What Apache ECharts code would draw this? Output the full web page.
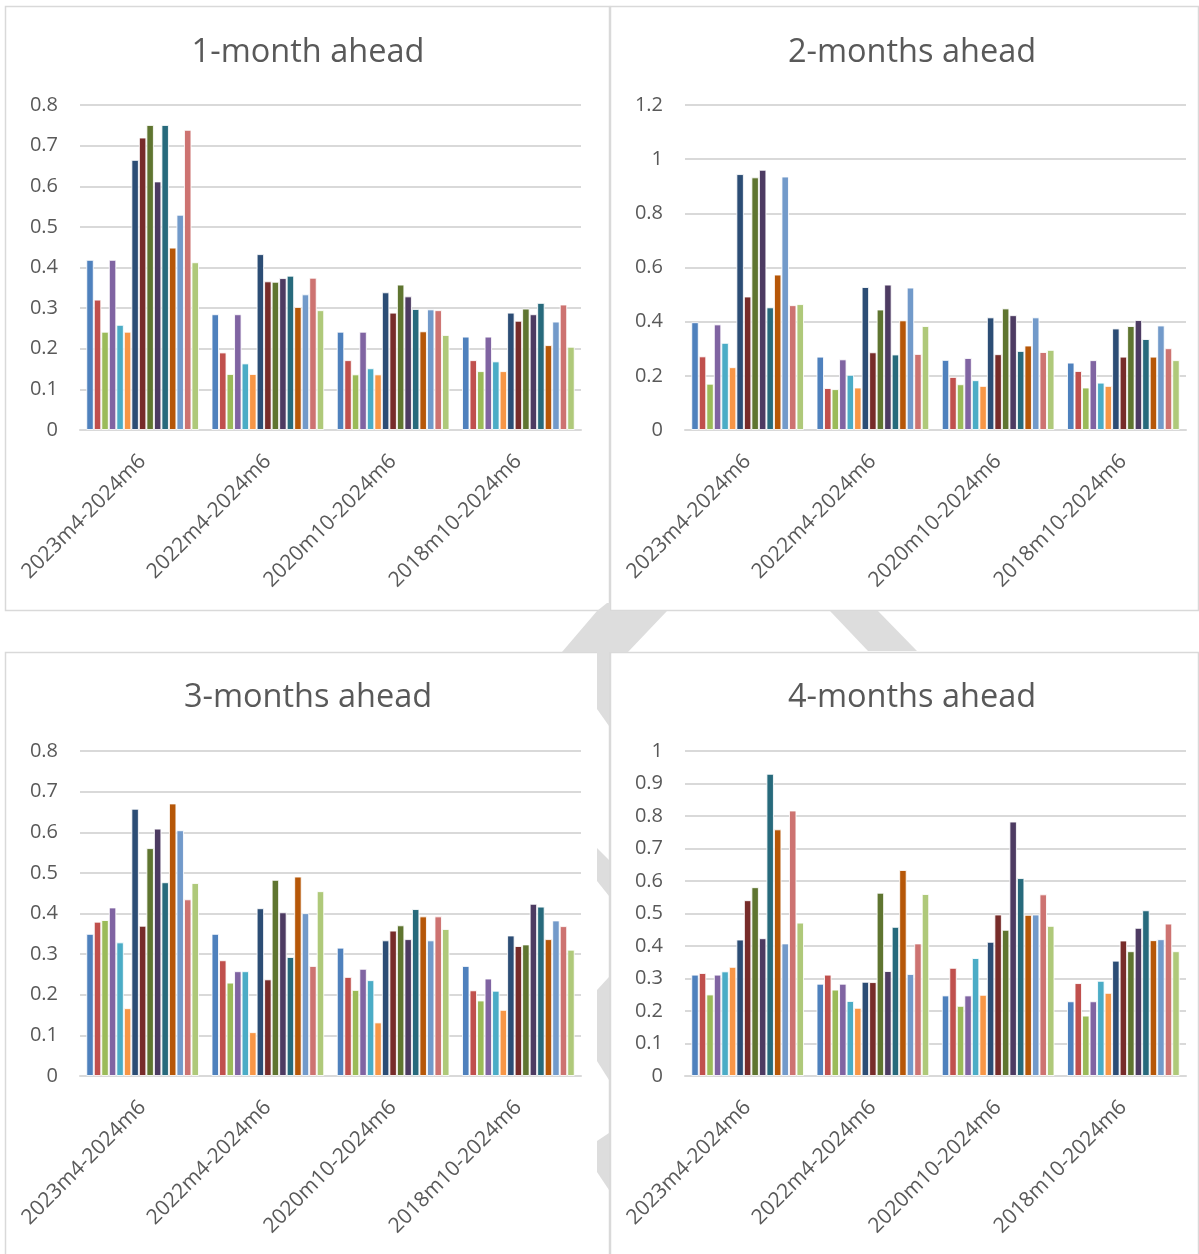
<!DOCTYPE html>
<html>
<head>
<meta charset="utf-8">
<script src="https://cdn.jsdelivr.net/npm/echarts@6/dist/echarts.min.js"></script>
<style>
  html, body { margin: 0; padding: 0; background: #ffffff; }
  #chart { width: 1199px; height: 1254px; }
</style>
</head>
<body>
<div id="chart"></div>
<script>
// Sample windows shown on each x axis
const categories = ['2023m4-2024m6', '2022m4-2024m6', '2020m10-2024m6', '2018m10-2024m6'];

// One row per series, one value per sample window
const oneMonth = [
  [0.419, 0.285, 0.242, 0.230],
  [0.321, 0.191, 0.172, 0.172],
  [0.242, 0.138, 0.137, 0.145],
  [0.419, 0.285, 0.242, 0.230],
  [0.259, 0.164, 0.152, 0.169],
  [0.242, 0.138, 0.137, 0.145],
  [0.665, 0.433, 0.339, 0.289],
  [0.720, 0.366, 0.289, 0.269],
  [0.751, 0.365, 0.358, 0.299],
  [0.612, 0.374, 0.329, 0.285],
  [0.751, 0.380, 0.298, 0.313],
  [0.449, 0.303, 0.243, 0.209],
  [0.530, 0.334, 0.297, 0.267],
  [0.739, 0.375, 0.295, 0.309],
  [0.413, 0.295, 0.234, 0.205]
];

const twoMonths = [
  [0.398, 0.271, 0.259, 0.249],
  [0.272, 0.155, 0.196, 0.218],
  [0.171, 0.151, 0.169, 0.157],
  [0.390, 0.261, 0.266, 0.258],
  [0.322, 0.204, 0.184, 0.175],
  [0.232, 0.157, 0.163, 0.163],
  [0.945, 0.528, 0.416, 0.375],
  [0.493, 0.287, 0.280, 0.271],
  [0.933, 0.445, 0.449, 0.384],
  [0.961, 0.537, 0.424, 0.406],
  [0.453, 0.279, 0.292, 0.336],
  [0.574, 0.405, 0.312, 0.271],
  [0.936, 0.526, 0.416, 0.386],
  [0.461, 0.281, 0.288, 0.302],
  [0.465, 0.384, 0.296, 0.258]
];

const threeMonths = [
  [0.350, 0.350, 0.316, 0.271],
  [0.380, 0.285, 0.244, 0.211],
  [0.384, 0.230, 0.212, 0.186],
  [0.415, 0.258, 0.264, 0.240],
  [0.329, 0.258, 0.236, 0.210],
  [0.167, 0.108, 0.132, 0.163],
  [0.658, 0.413, 0.334, 0.346],
  [0.370, 0.238, 0.358, 0.320],
  [0.561, 0.483, 0.371, 0.324],
  [0.609, 0.403, 0.337, 0.424],
  [0.477, 0.293, 0.411, 0.417],
  [0.671, 0.491, 0.393, 0.337],
  [0.605, 0.401, 0.334, 0.383],
  [0.435, 0.271, 0.393, 0.369],
  [0.475, 0.455, 0.362, 0.311]
];

const fourMonths = [
  [0.312, 0.284, 0.248, 0.230],
  [0.317, 0.312, 0.333, 0.286],
  [0.251, 0.266, 0.216, 0.186],
  [0.312, 0.284, 0.248, 0.230],
  [0.322, 0.231, 0.363, 0.293],
  [0.336, 0.210, 0.250, 0.256],
  [0.420, 0.290, 0.413, 0.355],
  [0.541, 0.289, 0.497, 0.417],
  [0.581, 0.564, 0.450, 0.384],
  [0.424, 0.323, 0.783, 0.456],
  [0.930, 0.459, 0.609, 0.510],
  [0.759, 0.634, 0.496, 0.418],
  [0.408, 0.314, 0.497, 0.421],
  [0.817, 0.408, 0.559, 0.469],
  [0.472, 0.560, 0.462, 0.384]
];

const panelTitles = ['1-month ahead', '2-months ahead', '3-months ahead', '4-months ahead'];
const yMax = [0.8, 1.2, 0.8, 1];
const yStep = [0.1, 0.2, 0.1, 0.1];

const palette = [
  '#4F81BD', '#C0504D', '#9BBB59', '#8064A2', '#4BACC6', '#F79646',
  '#2C4D75', '#772C2A', '#5F7530', '#4D3B62', '#276A7C', '#B65708',
  '#729ACA', '#CD7371', '#AFC97A'
];

const FONT = '"Open Sans", "Noto Sans", sans-serif';
const TEXT = '#595959';
const GRIDLINE = '#D9D9D9';

// Panel frames: [x, y, w, h] and plot areas
const frames = [
  [5, 6, 604, 604],
  [610, 6, 588, 604],
  [5, 652, 604, 610],
  [610, 652, 588, 610]
];
const plots = [
  { left: 80, top: 105 },
  { left: 685, top: 105 },
  { left: 80, top: 751 },
  { left: 685, top: 751 }
];
const titleCenters = [[308, 53], [912, 53], [308, 698], [912, 698]];

const panels = [oneMonth, twoMonths, threeMonths, fourMonths];

const grid = plots.map(p => ({ left: p.left, top: p.top, width: 501, height: 325 }));

const xAxis = plots.map((p, i) => ({
  type: 'category',
  gridIndex: i,
  data: categories,
  axisTick: { show: false },
  axisLine: { lineStyle: { color: GRIDLINE, width: 2 } },
  axisLabel: {
    interval: 0, rotate: 45, margin: 28,
    color: TEXT, fontSize: 21, fontFamily: FONT
  }
}));

const yAxis = plots.map((p, i) => ({
  type: 'value',
  gridIndex: i,
  min: 0, max: yMax[i], interval: yStep[i],
  axisLine: { show: false },
  axisTick: { show: false },
  splitLine: { lineStyle: { color: GRIDLINE, width: 2 } },
  axisLabel: { margin: 22, color: TEXT, fontSize: 20, fontFamily: FONT }
}));

const series = [];
panels.forEach((rows, pi) => {
  rows.forEach((vals, si) => {
    series.push({
      name: 'Series ' + (si + 1),
      type: 'bar',
      xAxisIndex: pi,
      yAxisIndex: pi,
      data: vals,
      barGap: '0%',
      barCategoryGap: '10%',
      itemStyle: { color: palette[si], borderColor: 'rgba(255,255,255,0.85)', borderWidth: 1 },
      animation: false
    });
  });
});

// Backdrop: light grey arrow pieces showing between the panels
const grey = '#DDDDDD';
const backdrop = [
  [[562, 652], [628, 652], [667, 611], [610, 611], [610, 603], [607, 603], [597, 611]],
  [[830, 611], [878, 611], [917, 651], [868, 651]],
  [[597, 652], [609, 652], [609, 726], [597, 709]],
  [[597, 848], [609, 860], [609, 896], [597, 881]],
  [[597, 990], [609, 977], [609, 1080], [597, 1061]],
  [[597, 1141], [609, 1133], [609, 1190], [597, 1172]]
];

const graphics = [];
frames.forEach(f => {
  graphics.push({
    type: 'rect', z: -3, silent: true,
    shape: { x: f[0] + 0.5, y: f[1] + 0.5, width: f[2], height: f[3] },
    style: { fill: '#ffffff', stroke: GRIDLINE, lineWidth: 1.5 }
  });
});
backdrop.forEach(pts => {
  graphics.push({
    type: 'polygon', z: -2, silent: true,
    shape: { points: pts },
    style: { fill: grey }
  });
});
panelTitles.forEach((t, i) => {
  graphics.push({
    type: 'text', z: 10, silent: true,
    x: titleCenters[i][0], y: titleCenters[i][1],
    style: {
      text: t, fill: TEXT, font: '32.5px ' + FONT,
      textAlign: 'center', textVerticalAlign: 'middle',
      align: 'center', verticalAlign: 'middle'
    }
  });
});

const chart = echarts.init(document.getElementById('chart'), null, { renderer: 'canvas' });
chart.setOption({
  backgroundColor: '#ffffff',
  animation: false,
  grid: grid,
  xAxis: xAxis,
  yAxis: yAxis,
  series: series,
  graphic: { elements: graphics }
});
</script>
</body>
</html>
